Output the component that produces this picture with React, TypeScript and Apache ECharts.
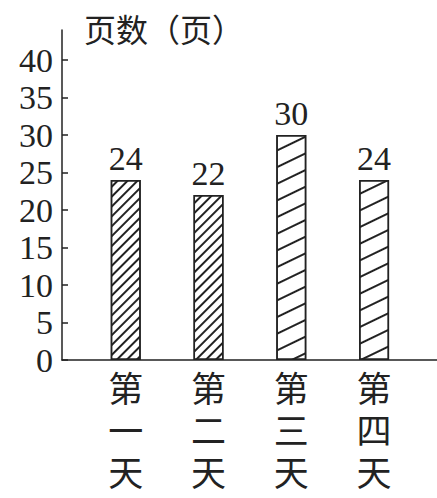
import React, { useEffect, useRef } from "react";
import * as echarts from "echarts";

const categories = ["第一天", "第二天", "第三天", "第四天"];
const pages = [24, 22, 30, 24];
const yTicks = [0, 5, 10, 15, 20, 25, 30, 35, 40];
const yTitle = "页数（页）";

export default function App() {
  const ref = useRef<HTMLDivElement>(null);
  useEffect(() => {
    document.body.style.margin = "0";
    const chart = echarts.init(ref.current!, null, { renderer: "svg" });
    const dense = {
      symbol: "rect",
      symbolSize: 1,
      dashArrayX: [[1, 0]],
      dashArrayY: [1.2, 4.8],
      rotation: -Math.PI / 4,
      color: "#222",
    };
    const sparse = {
      symbol: "rect",
      symbolSize: 1,
      dashArrayX: [[1, 0]],
      dashArrayY: [1.2, 13],
      rotation: -0.45,
      color: "#222",
    };
    const serif = "Liberation Serif, Times New Roman, serif";
    chart.setOption({
      animation: false,
      title: {
        text: yTitle,
        left: 79,
        top: 7,
        textStyle: {
          fontFamily: "Noto Sans CJK SC",
          fontSize: 32,
          fontWeight: "normal",
          color: "#222",
        },
      },
      grid: { left: 62, right: 0, top: 30, bottom: 138, containLabel: false },
      xAxis: {
        type: "value",
        min: 0.23,
        max: 4.76,
        axisLine: { show: true, onZero: false, lineStyle: { color: "#222", width: 1.5 } },
        axisTick: { show: false },
        splitLine: { show: false },
        axisLabel: {
          customValues: [1, 2, 3, 4],
          formatter: (v: number) => (categories[Math.round(v) - 1] || "").split("").join("\n"),
          fontFamily: "Liberation Serif, Noto Sans CJK SC",
          fontSize: 35,
          lineHeight: 42,
          color: "#222",
          margin: 9,
        },
      },
      yAxis: {
        type: "value",
        min: 0,
        max: 44,
        axisLine: { show: true, lineStyle: { color: "#222", width: 1.5 } },
        axisTick: {
          show: true,
          inside: true,
          length: 6,
          customValues: yTicks,
          lineStyle: { color: "#222", width: 1.5 },
        },
        splitLine: { show: false },
        axisLabel: {
          customValues: yTicks,
          fontFamily: serif,
          fontSize: 34,
          color: "#222",
          margin: 9,
        },
      },
      series: [
        {
          type: "bar",
          barWidth: 30,
          data: pages.map((v, i) => ({
            value: [i + 1, v],
            itemStyle: { decal: i < 2 ? dense : sparse },
          })),
          itemStyle: { color: "#fff", borderColor: "#222", borderWidth: 1.5 },
          label: {
            show: true,
            position: "top",
            distance: 5,
            formatter: (p: any) => String(p.value[1]),
            fontFamily: serif,
            fontSize: 34,
            color: "#222",
          },
        },
      ],
    });
    return () => chart.dispose();
  }, []);
  return <div ref={ref} style={{ width: 437, height: 498 }} />;
}
